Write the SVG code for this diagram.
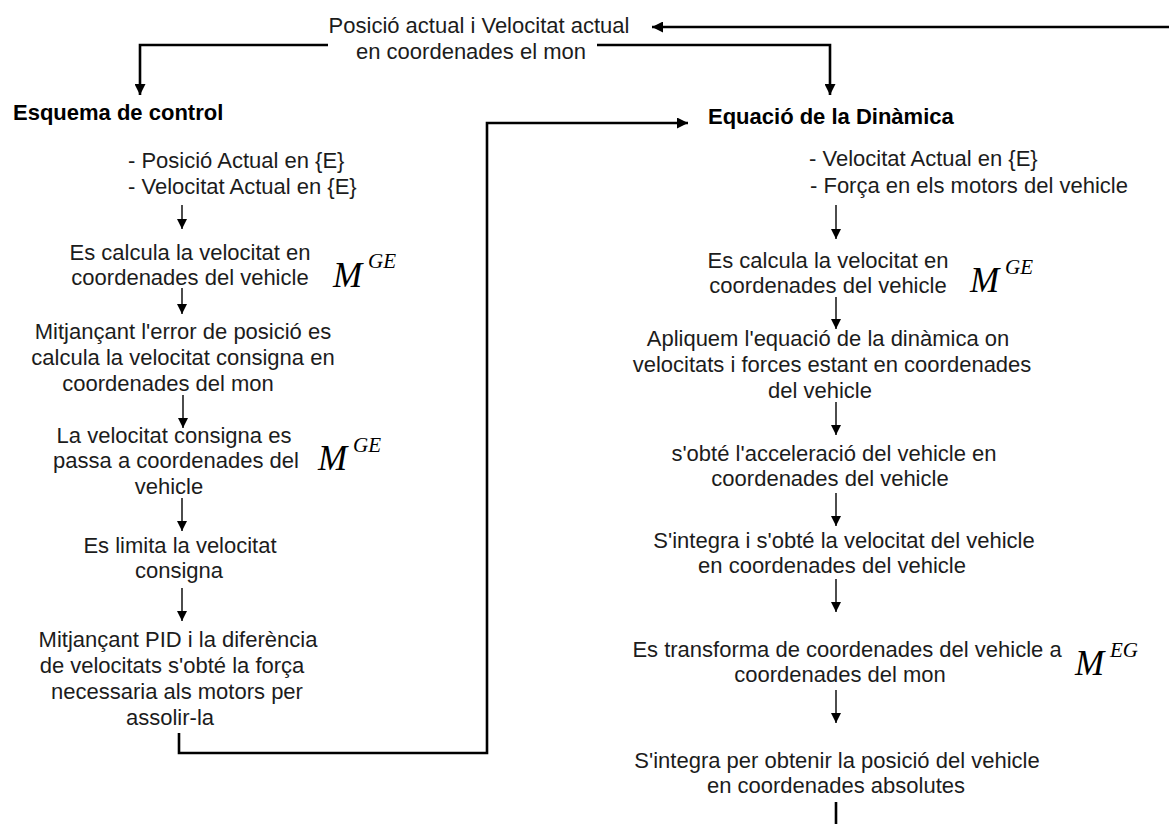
<svg xmlns="http://www.w3.org/2000/svg" width="1169" height="824" viewBox="0 0 1169 824">
<defs>
<style>
text{font-family:"Liberation Sans",Arial,sans-serif;font-size:22px;fill:#1c1c1c}
.c{text-anchor:middle}
.h{font-weight:bold;fill:#000}
.m{font-family:"Liberation Serif","Times New Roman",serif;font-style:italic;font-size:35px;fill:#000}
.s{font-family:"Liberation Serif","Times New Roman",serif;font-style:italic;font-size:21px;fill:#000}
.big{fill:none;stroke:#000;stroke-width:2.6}
.sm{fill:none;stroke:#000;stroke-width:1.4}
</style>
<marker id="ab" viewBox="0 0 10 10" refX="10" refY="5" markerWidth="11" markerHeight="11" markerUnits="userSpaceOnUse" orient="auto"><path d="M0,0 L10,5 L0,10 z" fill="#000"/></marker>
<marker id="as" viewBox="0 0 10 10" refX="10" refY="5" markerWidth="10" markerHeight="10" markerUnits="userSpaceOnUse" orient="auto"><path d="M0,0 L10,5 L0,10 z" fill="#000"/></marker>
</defs>
<rect width="1169" height="824" fill="#fff"/>

<g id="connectors">
<path class="big" d="M1169,27 H652" marker-end="url(#ab)"/>
<path class="big" d="M328,45 H140 V95" marker-end="url(#ab)"/>
<path class="big" d="M597,45 H830 V95" marker-end="url(#ab)"/>
<path class="big" d="M179,733 V753 H487 V123 H688" marker-end="url(#ab)"/>
<path class="big" d="M836,802 V824"/>
<path class="sm" d="M182,205 V229" marker-end="url(#as)"/>
<path class="sm" d="M182,288 V314" marker-end="url(#as)"/>
<path class="sm" d="M183,395 V428" marker-end="url(#as)"/>
<path class="sm" d="M182,498 V531" marker-end="url(#as)"/>
<path class="sm" d="M182,588 V621" marker-end="url(#as)"/>
<path class="sm" d="M836,205 V239" marker-end="url(#as)"/>
<path class="sm" d="M836,297 V329" marker-end="url(#as)"/>
<path class="sm" d="M836,402 V435" marker-end="url(#as)"/>
<path class="sm" d="M836,493 V526" marker-end="url(#as)"/>
<path class="sm" d="M836,579 V612" marker-end="url(#as)"/>
<path class="sm" d="M836,690 V723" marker-end="url(#as)"/>
</g>

<g id="estat">
<text class="c" x="479" y="33">Posició actual i Velocitat actual</text>
<text class="c" x="471" y="59">en coordenades el mon</text>
</g>

<g id="esquema-control">
<text class="h" x="13" y="120">Esquema de control</text>
</g>
<g id="ctrl-entrada">
<text x="128" y="168">- Posició Actual en {E}</text>
<text x="128" y="194">- Velocitat Actual en {E}</text>
</g>
<g id="ctrl-vel-vehicle">
<text class="c" x="190" y="260">Es calcula la velocitat en</text>
<text class="c" x="190" y="285">coordenades del vehicle</text>
<text class="m" x="333" y="287">M</text><text class="s" x="368" y="268">GE</text>
</g>
<g id="ctrl-error">
<text class="c" x="183" y="339">Mitjançant l'error de posició es</text>
<text class="c" x="183" y="365">calcula la velocitat consigna en</text>
<text class="c" x="168" y="391">coordenades del mon</text>
</g>
<g id="ctrl-consigna">
<text class="c" x="174" y="443">La velocitat consigna es</text>
<text class="c" x="176" y="468">passa a coordenades del</text>
<text class="c" x="169" y="494">vehicle</text>
<text class="m" x="318" y="470">M</text><text class="s" x="353" y="452">GE</text>
</g>
<g id="ctrl-limit">
<text class="c" x="180" y="553">Es limita la velocitat</text>
<text class="c" x="179" y="578">consigna</text>
</g>
<g id="ctrl-pid">
<text class="c" x="178" y="647">Mitjançant PID i la diferència</text>
<text class="c" x="172" y="673">de velocitats s'obté la força</text>
<text class="c" x="177" y="699">necessaria als motors per</text>
<text class="c" x="170" y="725">assolir-la</text>
</g>

<g id="equacio-dinamica">
<text class="h" x="708" y="124">Equació de la Dinàmica</text>
</g>
<g id="din-entrada">
<text x="809" y="166">- Velocitat Actual en {E}</text>
<text x="810" y="193">- Força en els motors del vehicle</text>
</g>
<g id="din-vel-vehicle">
<text class="c" x="828" y="268">Es calcula la velocitat en</text>
<text class="c" x="828" y="293">coordenades del vehicle</text>
<text class="m" x="970" y="292">M</text><text class="s" x="1005" y="274">GE</text>
</g>
<g id="din-equacio">
<text class="c" x="828" y="346">Apliquem l'equació de la dinàmica on</text>
<text class="c" x="832" y="372">velocitats i forces estant en coordenades</text>
<text class="c" x="820" y="398">del vehicle</text>
</g>
<g id="din-acceleracio">
<text class="c" x="834" y="461">s'obté l'acceleració del vehicle en</text>
<text class="c" x="830" y="486">coordenades del vehicle</text>
</g>
<g id="din-velocitat">
<text class="c" x="844" y="548">S'integra i s'obté la velocitat del vehicle</text>
<text class="c" x="832" y="573">en coordenades del vehicle</text>
</g>
<g id="din-transforma">
<text class="c" x="847" y="657">Es transforma de coordenades del vehicle a</text>
<text class="c" x="840" y="682">coordenades del mon</text>
<text class="m" x="1075" y="675">M</text><text class="s" x="1110" y="657">EG</text>
</g>
<g id="din-posicio">
<text class="c" x="837" y="768">S'integra per obtenir la posició del vehicle</text>
<text class="c" x="836" y="793">en coordenades absolutes</text>
</g>
</svg>
